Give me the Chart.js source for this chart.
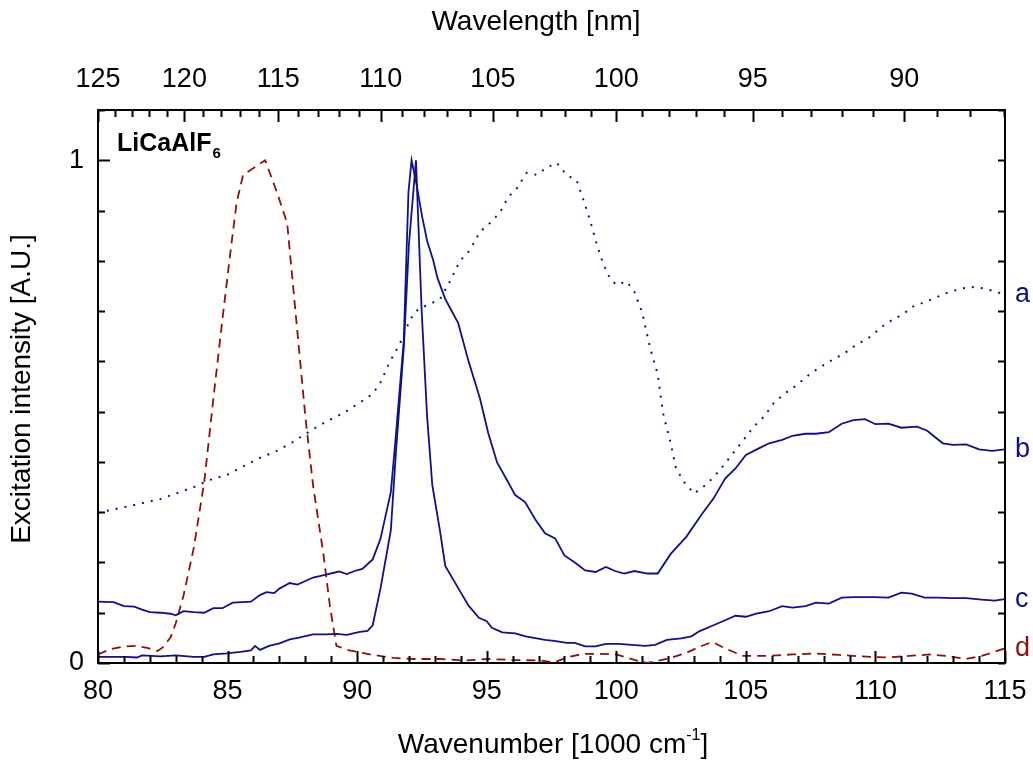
<!DOCTYPE html>
<html>
<head>
<meta charset="utf-8">
<script src="https://cdn.jsdelivr.net/npm/chart.js@4/dist/chart.umd.min.js"></script>
<style>
  body { margin: 0; background: #fff; }
  canvas { display: block; }
</style>
</head>
<body>
<canvas id="excitationChart" width="1033" height="760"></canvas>
<script>
// Excitation spectra, wavenumber in 1000 cm-1, intensity normalised
const aWave = [80, 81.1, 82.4, 83.7, 84.3, 84.97, 85.6, 86.25, 86.9, 87.5, 88.3, 88.8, 89.5, 90.1, 90.6, 90.9, 91.27, 91.65, 92.04, 92.36, 92.81, 93.2, 93.58, 93.97, 94.35, 94.74, 95.13, 95.51, 95.83, 96.16, 96.54, 96.93, 97.3, 97.7, 98.08, 98.47, 98.72, 98.98, 99.24, 99.5, 99.75, 100.0, 100.4, 100.7, 101.0, 101.3, 101.6, 101.8, 102.1, 102.3, 102.6, 103.0, 103.5, 104.0, 104.5, 104.9, 105.3, 105.7, 106.06, 106.5, 106.97, 107.5, 108.1, 108.8, 109.15, 109.8, 110.4, 111.1, 111.4, 112.1, 112.7, 113.3, 113.7, 114.2, 114.8, 115];
const aInt = [0.299, 0.311, 0.326, 0.350, 0.364, 0.374, 0.391, 0.408, 0.422, 0.439, 0.465, 0.480, 0.498, 0.518, 0.535, 0.558, 0.600, 0.635, 0.683, 0.704, 0.714, 0.724, 0.759, 0.800, 0.821, 0.858, 0.875, 0.896, 0.927, 0.944, 0.975, 0.971, 0.985, 0.995, 0.971, 0.960, 0.923, 0.882, 0.834, 0.793, 0.766, 0.752, 0.759, 0.738, 0.697, 0.628, 0.574, 0.498, 0.437, 0.388, 0.361, 0.337, 0.356, 0.384, 0.417, 0.443, 0.470, 0.490, 0.516, 0.536, 0.553, 0.576, 0.596, 0.616, 0.629, 0.649, 0.675, 0.695, 0.708, 0.722, 0.735, 0.745, 0.748, 0.745, 0.736, 0.733];

const bWave = [80, 80.6, 81.0, 81.4, 81.7, 82.0, 82.4, 82.8, 83.0, 83.3, 83.7, 84.1, 84.45, 84.8, 85.2, 85.9, 86.25, 86.5, 86.8, 87.0, 87.4, 87.7, 88.3, 88.8, 89.3, 89.6, 89.9, 90.2, 90.6, 90.9, 91.3, 91.5, 91.8, 91.98, 92.1, 92.3, 92.5, 92.7, 92.94, 93.1, 93.4, 93.9, 94.3, 94.74, 95.06, 95.4, 95.77, 96.1, 96.48, 96.87, 97.25, 97.64, 98.0, 98.4, 98.8, 99.2, 99.6, 99.95, 100.3, 100.7, 101.2, 101.6, 102.1, 102.7, 103.3, 103.75, 104.2, 104.6, 105.0, 105.5, 105.9, 106.4, 106.8, 107.3, 107.7, 108.2, 108.7, 109.15, 109.6, 110.0, 110.5, 111.0, 111.6, 112.0, 112.6, 113.0, 113.5, 114.0, 114.5, 115.0];
const bInt = [0.122, 0.121, 0.113, 0.112, 0.106, 0.101, 0.100, 0.098, 0.095, 0.103, 0.101, 0.100, 0.109, 0.109, 0.120, 0.122, 0.135, 0.141, 0.139, 0.148, 0.159, 0.156, 0.170, 0.176, 0.182, 0.177, 0.183, 0.187, 0.206, 0.247, 0.340, 0.456, 0.642, 0.937, 1.0, 0.95, 0.89, 0.84, 0.80, 0.766, 0.724, 0.676, 0.600, 0.526, 0.457, 0.399, 0.365, 0.334, 0.320, 0.286, 0.258, 0.248, 0.214, 0.200, 0.184, 0.181, 0.191, 0.183, 0.178, 0.183, 0.178, 0.178, 0.217, 0.251, 0.296, 0.327, 0.367, 0.387, 0.414, 0.427, 0.437, 0.444, 0.452, 0.456, 0.456, 0.459, 0.476, 0.483, 0.485, 0.475, 0.476, 0.468, 0.470, 0.462, 0.437, 0.434, 0.435, 0.425, 0.422, 0.425];

const cWave = [80, 81.1, 81.5, 81.7, 82.4, 83.0, 83.7, 84.1, 84.45, 84.97, 85.5, 85.9, 86.06, 86.25, 86.6, 87.0, 87.4, 87.8, 88.3, 88.8, 89.2, 89.6, 90.1, 90.4, 90.6, 90.9, 91.3, 91.5, 91.8, 92.0, 92.27, 92.49, 92.7, 92.9, 93.2, 93.4, 93.9, 94.3, 94.7, 95.0, 95.2, 95.6, 96.1, 96.5, 97.25, 97.6, 98.1, 98.4, 98.8, 99.2, 99.6, 100.1, 100.6, 101.1, 101.5, 101.95, 102.5, 102.9, 103.2, 103.75, 104.2, 104.6, 105.0, 105.4, 105.9, 106.4, 106.8, 107.3, 107.7, 108.2, 108.7, 109.15, 110.0, 110.5, 111.0, 111.4, 111.9, 112.4, 113.0, 113.5, 114.1, 114.6, 115.0];
const cInt = [0.012, 0.012, 0.011, 0.015, 0.013, 0.015, 0.012, 0.012, 0.017, 0.019, 0.022, 0.025, 0.034, 0.026, 0.034, 0.039, 0.047, 0.051, 0.057, 0.057, 0.058, 0.056, 0.062, 0.064, 0.075, 0.148, 0.264, 0.422, 0.628, 0.834, 1.0, 0.70, 0.49, 0.354, 0.262, 0.193, 0.149, 0.114, 0.090, 0.083, 0.070, 0.061, 0.059, 0.053, 0.046, 0.044, 0.040, 0.040, 0.033, 0.033, 0.038, 0.038, 0.036, 0.034, 0.036, 0.046, 0.049, 0.053, 0.063, 0.075, 0.085, 0.094, 0.092, 0.098, 0.103, 0.113, 0.110, 0.113, 0.120, 0.118, 0.130, 0.131, 0.131, 0.130, 0.140, 0.138, 0.130, 0.130, 0.129, 0.129, 0.126, 0.124, 0.127];

const dWave = [80, 80.45, 81.0, 81.5, 81.9, 82.3, 82.5, 82.8, 83.0, 83.3, 83.7, 84.1, 84.45, 84.8, 85.1, 85.35, 85.6, 86.1, 86.45, 86.9, 87.3, 87.5, 87.75, 88.0, 88.3, 88.7, 88.95, 89.2, 89.7, 90.5, 91.4, 92.2, 93.2, 94.1, 95.1, 96.0, 97.06, 97.6, 98.1, 98.7, 99.4, 100.0, 100.7, 101.2, 101.95, 102.7, 103.2, 103.7, 104.2, 104.9, 105.8, 106.8, 107.7, 108.6, 109.5, 110.4, 111.3, 112.1, 112.7, 113.5, 114.1, 115.0];
const dInt = [0.017, 0.027, 0.033, 0.034, 0.030, 0.024, 0.031, 0.051, 0.079, 0.134, 0.230, 0.360, 0.525, 0.683, 0.813, 0.916, 0.971, 0.988, 1.0, 0.937, 0.875, 0.765, 0.628, 0.491, 0.353, 0.216, 0.113, 0.034, 0.025, 0.017, 0.010, 0.008, 0.008, 0.005, 0.008, 0.006, 0.005, 0.001, 0.011, 0.018, 0.018, 0.017, 0.006, 0.0, 0.008, 0.020, 0.032, 0.042, 0.029, 0.014, 0.014, 0.017, 0.019, 0.016, 0.013, 0.011, 0.014, 0.017, 0.014, 0.008, 0.014, 0.029];

// axis labels
const wavenumberTicks = [80, 85, 90, 95, 100, 105, 110, 115];
const wavelengthTicks = [125, 120, 115, 110, 105, 100, 95, 90];
const intensityTicks = [0, 1];
const curveNames = ["a", "b", "c", "d"];

const NAVY = "#10108a";
const DARKRED = "#8c1010";
const FONT = "'Liberation Sans', Arial, sans-serif";

const toPoints = (xs, ys) => xs.map((x, i) => ({ x: x, y: ys[i] }));
const nmToWavenumber = (nm) => 10000 / nm;

// inward tick marks on all four sides, plus the free text
const decorations = {
  id: "decorations",
  afterDraw(chart) {
    const ctx = chart.ctx;
    const area = chart.chartArea;
    const xs = chart.scales.x;
    const ys = chart.scales.y;

    ctx.save();
    ctx.strokeStyle = "#000";
    ctx.lineWidth = 2;
    ctx.beginPath();
    // bottom: every 1000 cm-1, long every 5
    for (let v = 80; v <= 115; v++) {
      const px = Math.round(xs.getPixelForValue(v)) + 0.5;
      const len = v % 5 === 0 ? 12 : 7;
      ctx.moveTo(px, area.bottom);
      ctx.lineTo(px, area.bottom - len);
    }
    // top: every nm, long every 5 nm
    for (let nm = 125; nm >= 87; nm--) {
      const px = Math.round(xs.getPixelForValue(nmToWavenumber(nm))) + 0.5;
      const len = nm % 5 === 0 ? 12 : 7;
      ctx.moveTo(px, area.top);
      ctx.lineTo(px, area.top + len);
    }
    // left and right: every 0.1
    for (let i = 0; i <= 11; i++) {
      const py = Math.round(ys.getPixelForValue(i / 10)) + 0.5;
      const len = i % 10 === 0 ? 12 : 7;
      ctx.moveTo(area.left, py);
      ctx.lineTo(area.left + len, py);
      ctx.moveTo(area.right, py);
      ctx.lineTo(area.right - 7, py);
    }
    ctx.stroke();

    ctx.fillStyle = "#000";
    ctx.font = "28px " + FONT;
    ctx.textAlign = "center";
    ctx.textBaseline = "middle";
    ctx.fillText("Wavelength [nm]", 536, 22);

    // x title with superscript
    const main = "Wavenumber [1000 cm";
    const sup = "-1";
    const tail = "]";
    ctx.font = "28px " + FONT;
    const wMain = ctx.measureText(main).width;
    const wTail = ctx.measureText(tail).width;
    ctx.font = "16px " + FONT;
    const wSup = ctx.measureText(sup).width;
    let x0 = 553 - (wMain + wSup + wTail) / 2;
    ctx.textAlign = "left";
    ctx.textBaseline = "alphabetic";
    ctx.font = "28px " + FONT;
    ctx.fillText(main, x0, 753);
    ctx.font = "16px " + FONT;
    ctx.fillText(sup, x0 + wMain, 740);
    ctx.font = "28px " + FONT;
    ctx.fillText(tail, x0 + wMain + wSup, 753);

    // y title
    ctx.save();
    ctx.translate(22, 389);
    ctx.rotate(-Math.PI / 2);
    ctx.textAlign = "center";
    ctx.textBaseline = "middle";
    ctx.font = "28px " + FONT;
    ctx.fillText("Excitation intensity [A.U.]", 0, 0);
    ctx.restore();

    // compound name
    ctx.textAlign = "left";
    ctx.textBaseline = "alphabetic";
    ctx.font = "bold 25px " + FONT;
    ctx.fillText("LiCaAlF", 117, 151);
    const wName = ctx.measureText("LiCaAlF").width;
    ctx.font = "bold 15px " + FONT;
    ctx.fillText("6", 117 + wName + 1, 158);

    // curve names at the right end of each curve
    ctx.font = "27px " + FONT;
    ctx.textBaseline = "middle";
    chart.data.datasets.forEach((ds) => {
      const last = ds.data[ds.data.length - 1];
      ctx.fillStyle = ds.borderColor;
      ctx.fillText(ds.label, 1015, ys.getPixelForValue(last.y));
    });
    ctx.restore();
  },
};

const lineStyle = (label, xsArr, ysArr, color, dash, width) => ({
  label: label,
  data: toPoints(xsArr, ysArr),
  borderColor: color,
  borderWidth: width,
  borderDash: dash,
  pointRadius: 0,
  tension: 0,
  fill: false,
});

const tickFont = { family: FONT, size: 27 };

// fixed box sizes so the plot frame sits at left 98, right 1005, top 110, bottom 663
const noPadding = (s) => {
  s.paddingLeft = 0;
  s.paddingRight = 0;
  s.paddingTop = 0;
  s.paddingBottom = 0;
};

new Chart(document.getElementById("excitationChart").getContext("2d"), {
  type: "line",
  data: {
    datasets: [
      lineStyle(curveNames[0], aWave, aInt, NAVY, [2, 7], 2),
      lineStyle(curveNames[1], bWave, bInt, NAVY, [], 1.8),
      lineStyle(curveNames[2], cWave, cInt, NAVY, [], 1.8),
      lineStyle(curveNames[3], dWave, dInt, DARKRED, [9, 6], 1.8),
    ],
  },
  options: {
    responsive: false,
    animation: false,
    devicePixelRatio: 1,
    layout: { padding: 0 },
    plugins: {
      legend: { display: false },
      tooltip: { enabled: false },
    },
    scales: {
      x: {
        type: "linear",
        position: "bottom",
        min: 80,
        max: 115,
        afterBuildTicks: (s) => { s.ticks = wavenumberTicks.map((v) => ({ value: v })); },
        afterFit: (s) => { s.height = 97; noPadding(s); },
        ticks: { font: tickFont, color: "#000", padding: 12, maxRotation: 0, autoSkip: false },
        grid: { display: false, drawTicks: false },
        border: { display: true, color: "#000", width: 2 },
      },
      x2: {
        type: "linear",
        position: "top",
        min: 80,
        max: 115,
        afterBuildTicks: (s) => { s.ticks = wavelengthTicks.map((nm) => ({ value: nmToWavenumber(nm) })); },
        afterFit: (s) => { s.height = 110; noPadding(s); },
        ticks: {
          font: tickFont,
          color: "#000",
          padding: 14,
          maxRotation: 0,
          autoSkip: false,
          callback: (v) => Math.round(10000 / v),
        },
        grid: { display: false, drawTicks: false },
        border: { display: true, color: "#000", width: 2 },
      },
      y: {
        type: "linear",
        position: "left",
        min: 0,
        max: 1.1,
        afterBuildTicks: (s) => { s.ticks = intensityTicks.map((v) => ({ value: v })); },
        afterFit: (s) => { s.width = 98; noPadding(s); },
        ticks: { font: tickFont, color: "#000", padding: 14 },
        grid: { display: false, drawTicks: false },
        border: { display: true, color: "#000", width: 2 },
      },
      y2: {
        type: "linear",
        position: "right",
        min: 0,
        max: 1.1,
        afterFit: (s) => { s.width = 28; noPadding(s); },
        ticks: { display: false },
        grid: { display: false, drawTicks: false },
        border: { display: true, color: "#000", width: 2 },
      },
    },
  },
  plugins: [decorations],
});
</script>
</body>
</html>
